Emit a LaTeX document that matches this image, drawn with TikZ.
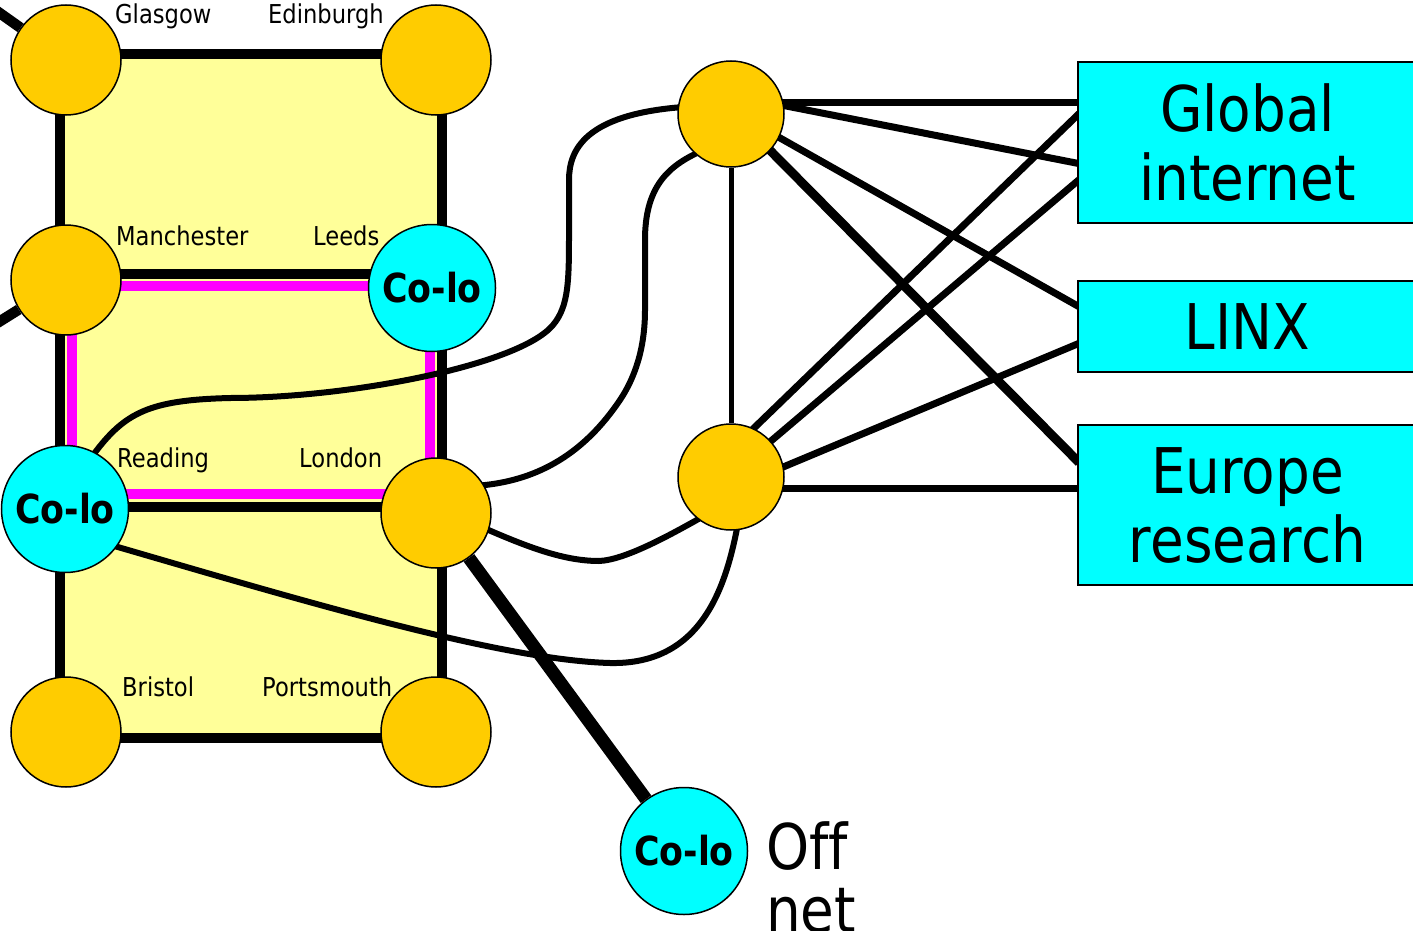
\documentclass[tikz,border=0pt]{standalone}
\usepackage{fontspec}
\usetikzlibrary{calc}
\newfontfamily\dvs[FakeStretch=0.87, Ligatures=NoCommon]{DejaVu Sans}
\definecolor{gold}{HTML}{FFCC00}
\definecolor{aqua}{HTML}{00FFFF}
\definecolor{paleyellow}{HTML}{FFFF99}
\definecolor{pinkline}{HTML}{FF00FF}
\pgfdeclarelayer{back}
\pgfdeclarelayer{mid}
\pgfsetlayers{back,mid,main}

\begin{document}
\begin{tikzpicture}[x=1pt,y=-1pt,
  city/.style={circle, draw=black, line width=1.5pt, fill=gold, minimum size=110pt, inner sep=0pt},
  router/.style={circle, draw=black, line width=1.5pt, fill=gold, minimum size=106pt, inner sep=0pt},
  colo/.style={circle, draw=black, line width=1.5pt, fill=aqua, minimum size=127pt, inner sep=0pt,
    font=\dvs\bfseries\fontsize{40}{40}\selectfont},
  netbox/.style={rectangle, draw=black, line width=2pt, fill=aqua, anchor=north west,
    minimum width=339pt, inner sep=0pt, align=center, font=\dvs\fontsize{63}{69}\selectfont},
  citylbl/.style={anchor=base west, inner sep=0pt, font=\dvs\fontsize{26}{26}\selectfont},
  rail/.style={line width=10.5pt},
  ring/.style={line width=10pt, draw=pinkline},
  link/.style={line width=7pt, shorten <=-3pt, shorten >=-3pt},
  wire/.style={line width=6pt, shorten <=-3pt, shorten >=-3pt},
]
\useasboundingbox (0,0) rectangle (1413,931);

% UK sites
\node[city] (glasgow)    at (66,60)   {};
\node[city] (edinburgh)  at (436,60)  {};
\node[city] (manchester) at (66,280)  {};
\node[colo] (leeds)      at (432,288) {Co-lo};
\node[colo] (reading)    at (65,509)  {Co-lo};
\node[city] (london)     at (436,513) {};
\node[city] (bristol)    at (66,732)  {};
\node[city] (portsmouth) at (436,732) {};

% core routers
\node[router] (up)  at (731,114) {};
\node[router] (low) at (731,477) {};

% external networks
\node[netbox, minimum height=161pt] (glob) at (1077,61)  {Global\\internet};
\node[netbox, minimum height=91pt]  (linx) at (1077,280) {LINX};
\node[netbox, minimum height=160pt] (eur)  at (1077,424) {Europe\\research};

% off-net site
\node[colo] (offnet) at (684,851) {Co-lo};
\node[anchor=west, align=left, inner sep=0pt, font=\dvs\fontsize{63}{63}\selectfont]
  (offlbl) at (766,877.5) {Off\\net};

% city names
\node[citylbl] (lglasgow)    at (115,24)  {Glasgow};
\node[citylbl] (ledinburgh)  at (268,24)  {Edinburgh};
\node[citylbl] (lmanchester) at (116,245) {Manchester};
\node[citylbl] (lleeds)      at (313,245) {Leeds};
\node[citylbl] (lreading)    at (117,467) {Reading};
\node[citylbl] (llondon)     at (299,467) {London};
\node[citylbl] (lbristol)    at (122,696) {Bristol};
\node[citylbl] (lportsmouth) at (262,696) {Portsmouth};

\coordinate (gout) at (-30,-8);
\coordinate (mout) at (-30,340);

\begin{pgfonlayer}{back}
  % national backbone area and its ring
  \fill[paleyellow] ($(glasgow)+(-6,-6)$) rectangle ($(portsmouth)+(6,6)$);
  \draw[rail] ($(glasgow)+(-6,-6)$) rectangle ($(portsmouth)+(6,6)$);
  \draw[rail] ($(manchester)+(0,-6)$) -- ($(leeds)+(0,-14)$);
  \draw[rail] ($(reading)+(0,-2)$) -- ($(london)+(0,-6)$);
  \draw[ring] ($(manchester)+(6,6)$) rectangle ($(london)+(-6,-19)$);
  \draw[rail] (gout) -- (glasgow);
  \draw[rail] (mout) -- (manchester);
\end{pgfonlayer}

\begin{pgfonlayer}{mid}
  % curved circuits into the core
  \draw[wire] (reading.62) .. controls (125,412) and (150,400) .. (230,398)
    .. controls (350,398) and (520,365) .. (553,325)
    .. controls (569,306) and (569,280) .. (569,230)
    -- (569,180) .. controls (569,150) and (585,115) .. (up.173);
  \draw[wire] (london.30) .. controls (540,480) and (585,452) .. (620,400)
    .. controls (634,379) and (645,350) .. (645,310)
    -- (645,240) .. controls (645,190) and (665,168) .. (up.228);
  \draw[wire] (london.-18) .. controls (530,548) and (565,561) .. (599,561)
    .. controls (625,560) and (670,535) .. (low.232);
  \draw[wire] (reading.-36) .. controls (300,600) and (500,660) .. (610,663)
    .. controls (700,665) and (725,590) .. (low.-84);
  \draw[line width=5pt] (up) -- (low);
  \draw[line width=13pt] (london) -- (offnet);

  % core to external networks
  \draw[link] (up.12) -- (up.12 -| glob.west);
  \draw[link] (up.9) -- ($(glob.north west)!0.627!(glob.south west)$);
  \draw[link] (up.-26) -- ($(linx.north west)!0.275!(linx.south west)$);
  \draw[link, line width=9pt] (up.-43) -- ($(eur.north west)!0.225!(eur.south west)$);
  \draw[link] (low.65) -- ($(glob.north west)!0.335!(glob.south west)$);
  \draw[link] (low.42) -- ($(glob.north west)!0.739!(glob.south west)$);
  \draw[link] (low.11) -- ($(linx.north west)!0.69!(linx.south west)$);
  \draw[link] (low.-12) -- (low.-12 -| eur.west);
\end{pgfonlayer}
\end{tikzpicture}
\end{document}
